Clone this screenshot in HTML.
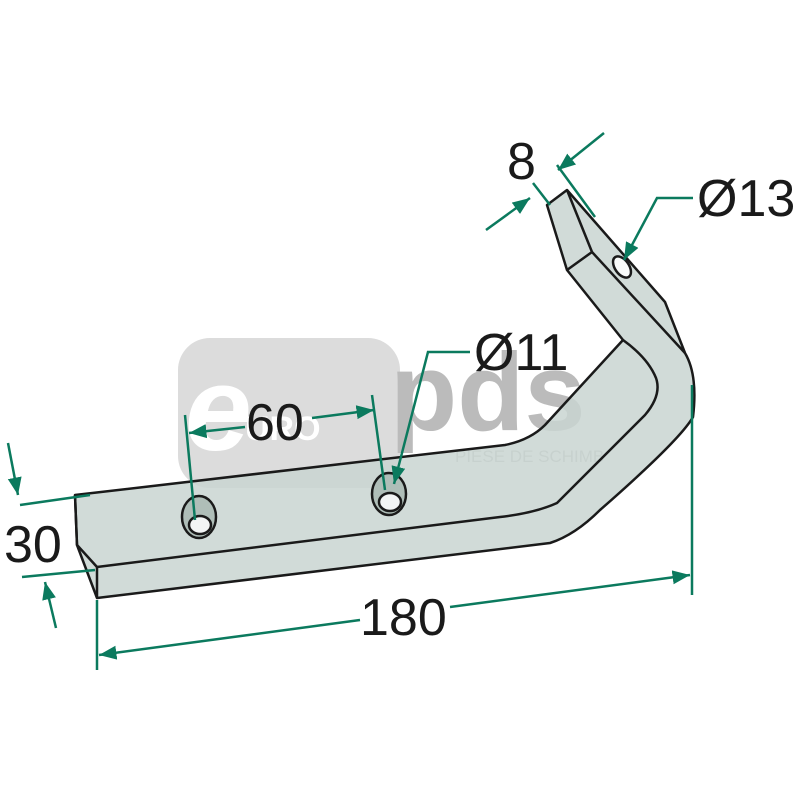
<!DOCTYPE html>
<html><head><style>html,body{margin:0;padding:0;background:#fff}svg{display:block}</style></head><body>
<svg width="800" height="800" viewBox="0 0 800 800" xmlns="http://www.w3.org/2000/svg" font-family="Liberation Sans, sans-serif">
<defs><marker id="a" viewBox="0 0 10 10" refX="10" refY="5" markerWidth="7" markerHeight="7" orient="auto-start-reverse"><path d="M0,1 L10,5 L0,9 z" fill="#0b7a5e"/></marker></defs>
<!-- watermark -->
<rect x="178" y="338" width="222" height="150" rx="32" fill="#dcdcdc"/>
<text x="185" y="450" font-size="120" font-style="italic" font-weight="bold" fill="#fff">e</text>
<text x="245" y="440" font-size="34" font-weight="bold" fill="#fff">URO</text>
<text x="390" y="430" font-size="110" font-weight="bold" fill="#bbbbbb">pds</text>
<text x="455" y="462" font-size="17" fill="#bbbbbb">PIESE DE SCHIMB</text>
<!-- part -->
<g stroke="#1a1a1a" stroke-width="2.5" stroke-linejoin="round" fill="#c9d5d1" fill-opacity="0.85">
<path d="M75,495 L505,445 Q530,440 545,425 L623,340 L567,270 L547,205 L567,190 L665,302 L685,353 Q698,375 693,417 Q680,440 600,510 Q575,535 550,543 L97,598 L77,545 Z"/>
<path d="M97,598 L97,567 L500,517 Q535,513 557,503 L645,415 Q662,395 656,378 Q648,358 623,340" fill="none"/>
<path d="M75,495 L77,545 L97,567" fill="none"/>
<path d="M567,270 L592,252 L685,353 M567,190 L592,252" fill="none"/>
<ellipse cx="199" cy="517" rx="17" ry="21" fill="#a9b8b3"/>
<ellipse cx="200" cy="525" rx="11" ry="9" fill="#fff"/>
<ellipse cx="389" cy="494" rx="17" ry="21" fill="#a9b8b3"/>
<ellipse cx="390" cy="502" rx="11" ry="9" fill="#fff"/>
<ellipse cx="622" cy="267" rx="7" ry="12" transform="rotate(-35 622 267)" fill="#fff"/>
</g>
<!-- dims -->
<g stroke="#0b7a5e" stroke-width="2.5" fill="none">
<path d="M20,505 L90,495 M22,577 L95,570"/>
<path d="M8,443 L18,495" marker-end="url(#a)"/>
<path d="M56,628 L45,582" marker-end="url(#a)"/>
<path d="M97,600 L97,670 M692,385 L692,595"/>
<path d="M360,620 L99,655" marker-end="url(#a)"/>
<path d="M450,607 L690,575" marker-end="url(#a)"/>
<path d="M185,415 L195,520 M372,395 L385,490"/>
<path d="M245,427 L189,433" marker-end="url(#a)"/>
<path d="M312,418 L374,410" marker-end="url(#a)"/>
<path d="M470,352 L428,352 L394,484" marker-end="url(#a)"/>
<path d="M693,198 L657,198 L624,260" marker-end="url(#a)"/>
<path d="M533,183 L550,205 M557,165 L595,217"/>
<path d="M486,230 L530,198" marker-end="url(#a)"/>
<path d="M604,133 L558,170" marker-end="url(#a)"/>
</g>
<g font-size="52" fill="#1a1a1a">
<text x="4" y="562">30</text>
<text x="360" y="635">180</text>
<text x="246" y="440">60</text>
<text x="474" y="370">Ø11</text>
<text x="697" y="216">Ø13</text>
<text x="507" y="179">8</text>
</g>
</svg>
</body></html>
